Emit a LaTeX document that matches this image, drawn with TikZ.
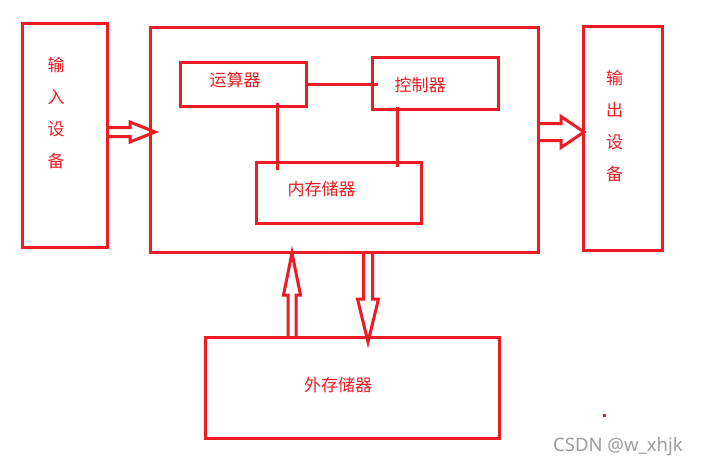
\documentclass[tikz,border=0pt]{standalone}
\usepackage{fontspec}
\newfontfamily\cjk{Noto Sans CJK SC}
\newfontfamily\wmfont{Noto Sans}
\usetikzlibrary{calc}
\definecolor{penred}{HTML}{ED1C24}
\definecolor{markgray}{HTML}{9C9C9C}

% hollow block arrow: from, to, shaft half width, head half width, head length
\newcommand{\hollowarrow}[5]{%
  \draw[hollow] let \p1=(#1), \p2=(#2),
      \n1={veclen(\x2-\x1,\y2-\y1)}, \n2={atan2(\y2-\y1,\x2-\x1)} in
    [shift={(\p1)}, rotate=\n2]
    (0pt,#3pt) -- (\n1-#5pt,#3pt) -- (\n1-#5pt,#4pt) -- (\n1,0pt)
    -- (\n1-#5pt,-#4pt) -- (\n1-#5pt,-#3pt) -- (0pt,-#3pt);
}

\begin{document}
\begin{tikzpicture}[
    x=1pt, y=-1pt,
    font=\cjk\fontsize{17}{17}\selectfont,
    box/.style={draw=penred, line width=3pt, inner sep=0pt, outer sep=0pt},
    lbl/.style={text=penred, inner sep=0pt},
    vlbl/.style={lbl, align=center, font=\cjk\fontsize{17}{32}\selectfont},
    link/.style={draw=penred, line width=3pt},
    hollow/.style={draw=penred, line width=3pt, line join=miter},
  ]
    \useasboundingbox (0,0) rectangle (701,467);

    % boxes
    \node[box, minimum width=85pt, minimum height=224pt] (inbox) at (64.5,135) {};
    \node[box, minimum width=388pt, minimum height=225pt] (main) at (344,139.5) {};
    \node[box, minimum width=79pt, minimum height=224pt] (outbox) at (622.5,138) {};
    \node[box, minimum width=126pt, minimum height=44pt] (ys) at (243,84) {};
    \node[box, minimum width=126pt, minimum height=52pt] (kz) at (435,83) {};
    \node[box, minimum width=165pt, minimum height=61pt] (nc) at (338.5,192.5) {};
    \node[box, minimum width=294pt, minimum height=101pt] (ext) at (352,387.5) {};

    % labels
    \node[vlbl] (intxt) at (56,113) {输\\入\\设\\备};
    \node[vlbl] (outtxt) at (614.5,126) {输\\出\\设\\备};
    \node[lbl] (ystxt) at (235,80) {运算器};
    \node[lbl] (kztxt) at (420,85) {控制器};
    \node[lbl] (nctxt) at (321.5,189.5) {内存储器};
    \node[lbl] (exttxt) at (338,385) {外存储器};

    % inner wiring
    \coordinate (ysfoot) at ($(ys.south)+(34,0)$);
    \coordinate (kzfoot) at ($(kz.south)+(-38,0)$);
    \draw[link, shorten >=-6pt] (ys.east) -- (ys.east -| kz.west);
    \draw[link, shorten <=-3pt, shorten >=-8pt] (ysfoot) -- (ysfoot |- nc.north);
    \draw[link, shorten <=-2pt, shorten >=-5pt] (kzfoot) -- (kzfoot |- nc.north);

    % block arrows
    \coordinate (intail) at ($(inbox.east)+(0,-3)$);
    \coordinate (outtail) at ($(main.east)+(0,-7.5)$);
    \coordinate (upfoot) at ($(ext.north)+(-60,0)$);
    \coordinate (downtop) at ($(main.south)+(24,0)$);
    \hollowarrow{intail}{$(intail -| main.west)+(5,0)$}{4.5}{10}{25}
    \hollowarrow{outtail}{$(outtail -| outbox.west)+(1,0)$}{8.5}{15.5}{23}
    \hollowarrow{upfoot}{$(upfoot |- main.south)+(0,1)$}{4}{8.5}{42}
    \hollowarrow{downtop}{$(downtop |- ext.north)+(0,5)$}{4.5}{10.5}{43}

    \node[fill=penred, minimum size=3pt, inner sep=0pt] (speck) at (604.5,415.5) {};
    \node[font=\wmfont\fontsize{18.5}{18.5}\selectfont, text=markgray, anchor=base west, inner sep=0pt] (mark) at (553,451) {CSDN @w\_xhjk};
\end{tikzpicture}
\end{document}
